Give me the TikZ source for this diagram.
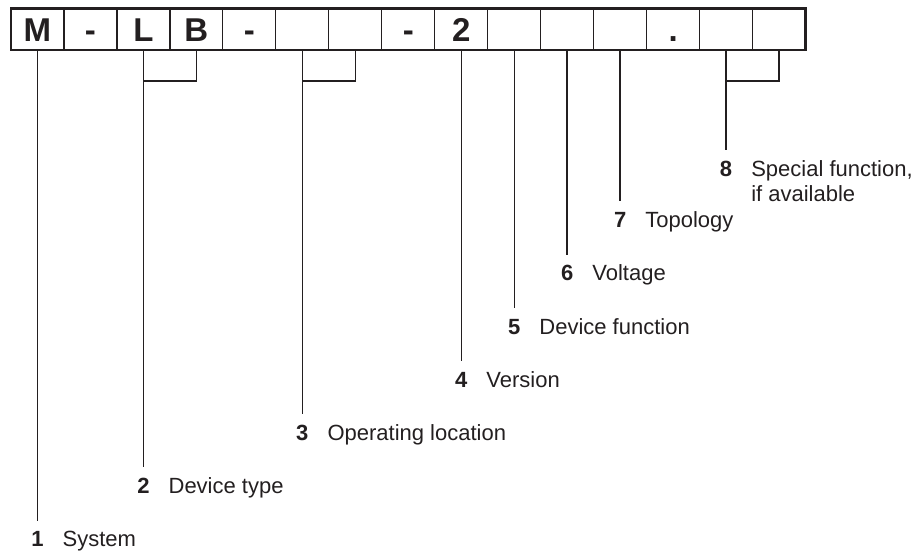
\documentclass[tikz,border=0pt]{standalone}
\usepackage{fontspec}
\setmainfont{Liberation Sans}
\definecolor{ink}{HTML}{231F20}
\begin{document}
\begin{tikzpicture}[x=1pt,y=-1pt,
  cell/.style={draw=ink, line width=1.2pt, minimum width=52.97pt, minimum height=41.7pt,
    inner sep=0pt, outer sep=0pt, text height=25.1pt, text depth=0pt,
    font=\fontsize{33}{36}\selectfont\bfseries, text=ink},
  num/.style={anchor=base, inner sep=0pt, font=\fontsize{22}{25.5}\selectfont\bfseries, text=ink},
  desc/.style={anchor=base west, inner sep=0pt, font=\fontsize{22}{25.5}\selectfont, text=ink},
  conn/.style={draw=ink, line width=1.4pt}]
\useasboundingbox (0,0) rectangle (919,554);
% code cells
\node[cell] (c1)  at ({11+0.5*52.97},29.15)  {M};
\node[cell] (c2)  at ({11+1.5*52.97},29.15)  {-};
\node[cell] (c3)  at ({11+2.5*52.97},29.15)  {L};
\node[cell] (c4)  at ({11+3.5*52.97},29.15)  {B};
\node[cell] (c5)  at ({11+4.5*52.97},29.15)  {-};
\node[cell] (c6)  at ({11+5.5*52.97},29.15)  {};
\node[cell] (c7)  at ({11+6.5*52.97},29.15)  {};
\node[cell] (c8)  at ({11+7.5*52.97},29.15)  {-};
\node[cell] (c9)  at ({11+8.5*52.97},29.15)  {2};
\node[cell] (c10) at ({11+9.5*52.97},29.15)  {};
\node[cell] (c11) at ({11+10.5*52.97},29.15) {};
\node[cell] (c12) at ({11+11.5*52.97},29.15) {};
\node[cell] (c13) at ({11+12.5*52.97},29.15) {.};
\node[cell] (c14) at ({11+13.5*52.97},29.15) {};
\node[cell] (c15) at ({11+14.5*52.97},29.15) {};
\draw[ink, line width=2.7pt] (c1.north west) rectangle (c15.south east);
% labels
\node[num] (n1) at ({11+0.5*52.97},546.5) {1};
\node[desc] (t1) at ([xshift=25pt]n1.base) {System};
\node[num] (n2) at ({11+2.5*52.97},493) {2};
\node[desc] (t2) at ([xshift=25pt]n2.base) {Device type};
\node[num] (n3) at ({11+5.5*52.97},440) {3};
\node[desc] (t3) at ([xshift=25pt]n3.base) {Operating location};
\node[num] (n4) at ({11+8.5*52.97},387) {4};
\node[desc] (t4) at ([xshift=25pt]n4.base) {Version};
\node[num] (n5) at ({11+9.5*52.97},334) {5};
\node[desc] (t5) at ([xshift=25pt]n5.base) {Device function};
\node[num] (n6) at ({11+10.5*52.97},280.5) {6};
\node[desc] (t6) at ([xshift=25pt]n6.base) {Voltage};
\node[num] (n7) at ({11+11.5*52.97},227) {7};
\node[desc] (t7) at ([xshift=25pt]n7.base) {Topology};
\node[num] (n8) at ({11+13.5*52.97},176) {8};
\node[desc] (t8) at ([xshift=25pt]n8.base) {\begin{tabular}[t]{@{}l@{}}Special function,\\if available\end{tabular}};
% bracket joints
\path (c3.south) ++(0,31) coordinate (j2);
\path (c6.south) ++(0,31) coordinate (j3);
\path (c14.south) ++(0,31) coordinate (j8);
% connectors
\draw[conn] (c1.south) -- ([yshift=26pt]n1.base);
\draw[conn] (c3.south) -- ([yshift=26pt]n2.base);
\draw[conn] (c4.south) |- (j2);
\draw[conn] (c6.south) -- ([yshift=26pt]n3.base);
\draw[conn] (c7.south) |- (j3);
\draw[conn] (c9.south) -- ([yshift=26pt]n4.base);
\draw[conn] (c10.south) -- ([yshift=26pt]n5.base);
\draw[conn] (c11.south) -- ([yshift=26pt]n6.base);
\draw[conn] (c12.south) -- ([yshift=26pt]n7.base);
\draw[conn] (c14.south) -- ([yshift=26pt]n8.base);
\draw[conn] (c15.south) |- (j8);
\end{tikzpicture}
\end{document}
